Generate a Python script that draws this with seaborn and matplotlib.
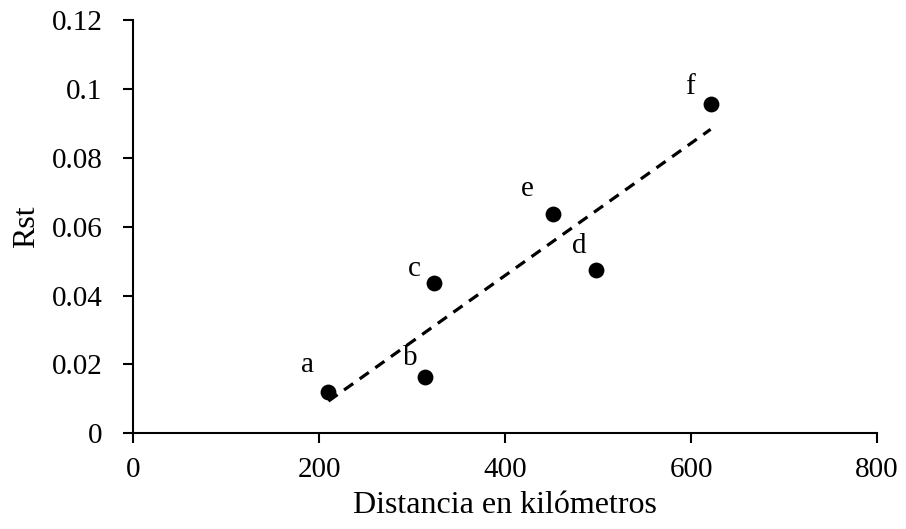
import numpy as np
import seaborn as sns
import matplotlib.pyplot as plt

# data
labels = ["a", "b", "c", "d", "e", "f"]
dist_km = [210, 314, 323, 498, 452, 621]
rst = [0.0119, 0.0163, 0.0436, 0.0474, 0.0636, 0.0956]
# label offsets (points) relative to each dot
lab_dx = [-15, -11, -14, -12, -19, -15]
lab_dy = [20, 14, 10, 17, 18, 12]

xticks = [0, 200, 400, 600, 800]
yticks = [0, 0.02, 0.04, 0.06, 0.08, 0.1, 0.12]
ytick_labels = ["0", "0.02", "0.04", "0.06", "0.08", "0.1", "0.12"]

sns.set_style("ticks")
plt.rcParams["font.family"] = ["Liberation Serif", "DejaVu Serif"]
plt.rcParams["text.color"] = "black"
plt.rcParams["axes.labelcolor"] = "black"

fig = plt.figure(figsize=(9.06, 5.29), dpi=100)
ax = fig.add_axes([0.147, 0.181, 0.821, 0.781])

sns.regplot(x=dist_km, y=rst, ax=ax, scatter=False, ci=None, truncate=True,
            line_kws=dict(color="black", lw=2.3, ls=(0, (3.5, 2.5))))
sns.scatterplot(x=dist_km, y=rst, ax=ax, color="black", s=130, edgecolor="black",
                linewidth=0, zorder=3)

for lab, x, y, dx, dy in zip(labels, dist_km, rst, lab_dx, lab_dy):
    ax.annotate(lab, (x, y), xytext=(dx, dy), textcoords="offset points",
                ha="center", va="center", fontsize=21, color="black")

ax.set_xlim(0, 800)
ax.set_ylim(0, 0.12)
ax.set_xticks(xticks)
ax.set_yticks(yticks)
ax.set_yticklabels(ytick_labels)
ax.tick_params(labelsize=21, length=7, width=1.5, direction="out", colors="black")
ax.tick_params(axis="y", pad=15)
ax.tick_params(axis="x", pad=10)
ax.set_xlabel("Distancia en kilómetros", fontsize=23, labelpad=6)
ax.set_ylabel("Rst", fontsize=23, labelpad=8)
for side in ["left", "bottom"]:
    ax.spines[side].set_linewidth(1.5)
    ax.spines[side].set_color("black")
sns.despine(ax=ax)

fig.savefig("out.png", dpi=100)
